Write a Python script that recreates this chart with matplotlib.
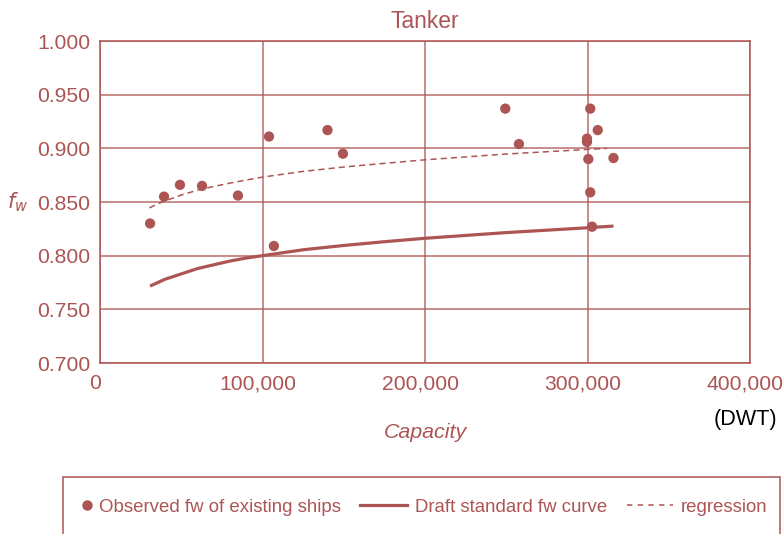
import numpy as np
import matplotlib.pyplot as plt
from matplotlib.lines import Line2D
from matplotlib.patches import Rectangle
from matplotlib.ticker import FuncFormatter
from matplotlib.transforms import ScaledTranslation
from matplotlib.legend_handler import HandlerLine2DCompound

plt.rcParams['font.family'] = ['Liberation Sans', 'DejaVu Sans']

RED = '#AD5555'

# observed fw of existing tankers (capacity in DWT)
obs_dwt = [30800, 39400, 49200, 62800, 84900, 104000, 107000, 140000, 149500,
           249400, 257800, 301700, 306300, 299700, 299700, 300500, 316000,
           301700, 302800]
obs_fw = [0.830, 0.855, 0.866, 0.865, 0.856, 0.911, 0.809, 0.917, 0.895,
          0.937, 0.904, 0.937, 0.917, 0.909, 0.906, 0.890, 0.891,
          0.859, 0.827]

# draft standard fw curve
std_dwt = [30800, 40000, 50000, 60000, 70000, 80000, 90000, 100000, 125000,
           150000, 175000, 200000, 250000, 300000, 316000]
std_fw = [0.7717, 0.778, 0.783, 0.788, 0.7915, 0.795, 0.7978, 0.800, 0.8055,
          0.8095, 0.813, 0.8162, 0.8215, 0.826, 0.8276]

# regression through the observed points
reg_dwt = [30400, 35000, 40000, 50000, 60000, 70000, 80000, 90000, 100000,
           125000, 150000, 175000, 200000, 250000, 300000, 312000]
reg_fw = [0.8445, 0.848, 0.851, 0.8565, 0.861, 0.8645, 0.8676, 0.8705, 0.8732,
          0.8785, 0.8826, 0.886, 0.8893, 0.8947, 0.899, 0.900]


class DotAtRight(HandlerLine2DCompound):
    # put the single marker near the text instead of mid-handle
    def get_xdata(self, legend, xdescent, ydescent, width, height, fontsize):
        xdata, _ = super().get_xdata(legend, xdescent, ydescent, width,
                                     height, fontsize)
        return xdata, [-xdescent + width - 3]


fig = plt.figure(figsize=(7.84, 5.34), dpi=100)
ax = fig.add_axes([100 / 784, 1 - 363 / 534, 650 / 784, 322 / 534])

ax.plot(std_dwt, std_fw, color=RED, lw=2.3, solid_capstyle='butt', zorder=3)
ax.plot(reg_dwt, reg_fw, color=RED, lw=1.1, ls=(0, (4, 2.7)), zorder=3)
ax.scatter(obs_dwt, obs_fw, s=55, color=RED, edgecolors='none', zorder=4)

ax.set_xlim(0, 400000)
ax.set_ylim(0.700, 1.000)
ax.set_xticks([0, 100000, 200000, 300000, 400000])
ax.set_yticks(np.arange(0.700, 1.0001, 0.050))
ax.xaxis.set_major_formatter(FuncFormatter(lambda v, p: f'{int(v):,}'))
ax.yaxis.set_major_formatter(FuncFormatter(lambda v, p: f'{v:.3f}'))
ax.tick_params(length=0, labelsize=15.2, labelcolor=RED)
ax.tick_params(axis='y', pad=7)
ax.tick_params(axis='x', pad=8)
shift = ScaledTranslation(-5 / 100, 0, fig.dpi_scale_trans)
for lab in ax.get_xticklabels():
    lab.set_transform(lab.get_transform() + shift)
ax.grid(True, color=RED, lw=1.1, alpha=0.85)
ax.set_axisbelow(True)
for sp in ax.spines.values():
    sp.set_color(RED)
    sp.set_linewidth(1.1)

ax.set_title('Tanker', color=RED, fontsize=16.5, pad=9.5)
fig.text(425 / 784, 1 - 433 / 534, 'Capacity', color=RED, fontsize=15.4,
         style='italic', ha='center', va='center')
fig.text(745 / 784, 1 - 420 / 534, '(DWT)', color='black', fontsize=15.6,
         ha='center', va='center')
fig.text(18 / 784, 1 - 202 / 534, r'$f_w$', color=RED, fontsize=15,
         ha='center', va='center')

# legend frame runs off the bottom edge
fig.patches.append(Rectangle((63 / 784, -0.05), 717 / 784, 0.05 + 57 / 534,
                             transform=fig.transFigure, fill=False,
                             edgecolor=RED, lw=1.1))
dot = Line2D([], [], ls='none', marker='o', ms=6.5, color=RED)
handles = [
    dot,
    Line2D([], [], lw=2.3, color=RED),
    Line2D([], [], lw=1.1, ls=(0, (3.5, 3.5)), color=RED),
]
labels = ['Observed fw of existing ships', 'Draft standard fw curve',
          'regression']
leg = fig.legend(handles, labels, loc='center', ncol=3, frameon=False,
                 bbox_to_anchor=(406 / 784, 1 - 507 / 534),
                 fontsize=13.4, handlelength=2.5, handletextpad=0.43,
                 columnspacing=1.05, handler_map={dot: DotAtRight()})
for t in leg.get_texts():
    t.set_color(RED)

fig.savefig('out.png', dpi=100)
